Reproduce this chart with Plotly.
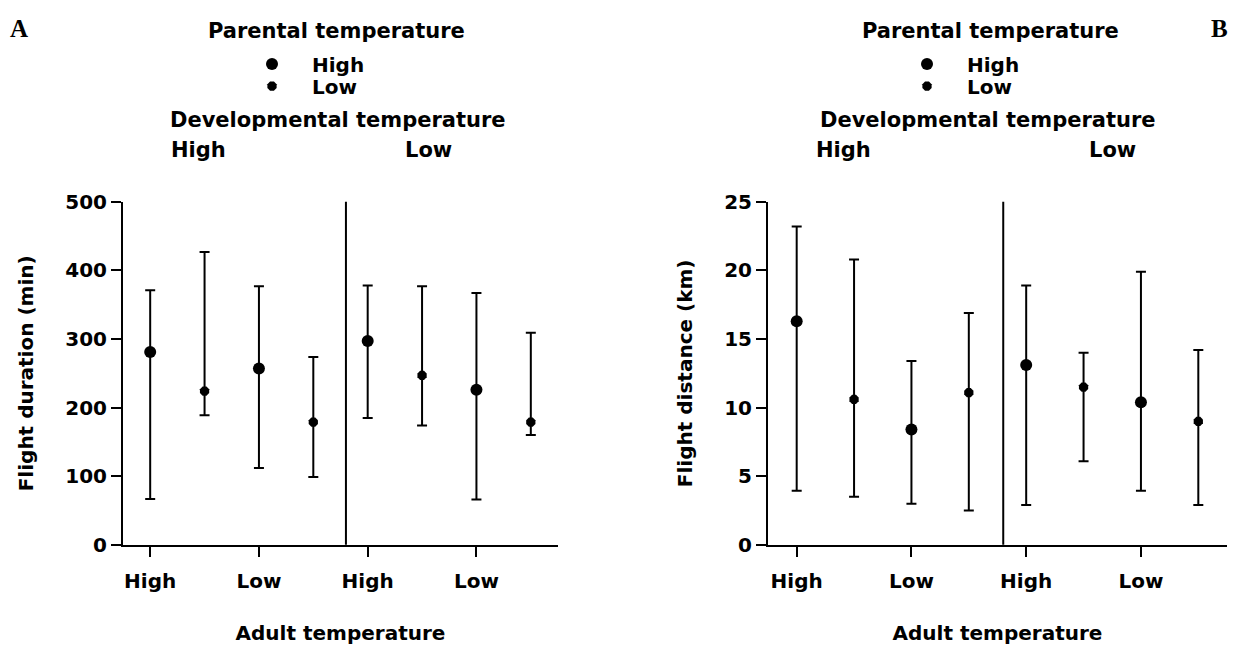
import plotly.graph_objects as go

W, H = 1245, 659
def px(x): return x / W
def py(y): return 1 - y / H

# ---- data ----
positions_high = [1, 3, 5, 7]   # parental High
positions_low = [2, 4, 6, 8]    # parental Low
tick_vals = [1, 3, 5, 7]
tick_text = ["High", "Low", "High", "Low"]

# Panel A: flight duration (min)
dur_high_mean = [281, 257, 297, 226]
dur_high_upper = [371, 377, 378, 367]
dur_high_lower = [67, 112, 185, 66]
dur_low_mean = [224, 179, 247, 179]
dur_low_upper = [427, 274, 377, 309]
dur_low_lower = [189, 99, 174, 160]

# Panel B: flight distance (km)
dist_high_mean = [16.3, 8.4, 13.1, 10.4]
dist_high_upper = [23.2, 13.4, 18.9, 19.9]
dist_high_lower = [3.95, 3.0, 2.9, 3.95]
dist_low_mean = [10.6, 11.1, 11.5, 9.0]
dist_low_upper = [20.8, 16.9, 14.0, 14.2]
dist_low_lower = [3.5, 2.5, 6.1, 2.9]

divider_x = 4.6

FONT = "DejaVu Sans"
BLACK = "black"

def trace(x, mean, upper, lower, name, symbol, size, xa, ya, legend):
    return go.Scatter(
        x=x, y=mean, mode="markers", name=name,
        marker=dict(symbol=symbol, size=size, color=BLACK, line=dict(width=0)),
        error_y=dict(type="data", symmetric=False,
                     array=[u - m for u, m in zip(upper, mean)],
                     arrayminus=[m - l for m, l in zip(mean, lower)],
                     color=BLACK, thickness=2, width=5),
        xaxis=xa, yaxis=ya, legend=legend, showlegend=True,
    )

fig = go.Figure()
fig.add_trace(trace(positions_high, dur_high_mean, dur_high_upper, dur_high_lower, "High", "circle", 12, "x", "y", "legend"))
fig.add_trace(trace(positions_low, dur_low_mean, dur_low_upper, dur_low_lower, "Low", "octagon", 10, "x", "y", "legend2"))
fig.add_trace(trace(positions_high, dist_high_mean, dist_high_upper, dist_high_lower, "High", "circle", 12, "x2", "y2", "legend3"))
fig.add_trace(trace(positions_low, dist_low_mean, dist_low_upper, dist_low_lower, "Low", "octagon", 10, "x2", "y2", "legend4"))

tfont = dict(family=FONT, size=20, color=BLACK, weight="bold")
axis_common = dict(showline=True, linecolor=BLACK, linewidth=2, ticks="outside", ticklen=10,
                   tickwidth=2, tickcolor=BLACK, showgrid=False, zeroline=False,
                   tickfont=tfont)

xcommon = dict(axis_common, range=[0.5, 8.5], tickvals=tick_vals, ticktext=tick_text,
               ticklabelstandoff=7,
               title=dict(text="Adult temperature", standoff=34, font=tfont))

def leg(x, y):
    return dict(x=px(x), y=py(y), xanchor="left", yanchor="middle", itemwidth=70,
                bgcolor="rgba(0,0,0,0)", tracegroupgap=0, font=tfont)

fig.update_layout(
    width=W, height=H, margin=dict(l=0, r=0, t=0, b=0),
    paper_bgcolor="white", plot_bgcolor="white",
    xaxis=dict(xcommon, domain=[px(123), px(558)], anchor="y"),
    xaxis2=dict(xcommon, domain=[px(768), px(1227)], anchor="y2"),
    yaxis=dict(axis_common, range=[0, 500], dtick=100, domain=[py(553), py(197)], anchor="x",
               title=dict(text="Flight duration (min)", standoff=26, font=tfont)),
    yaxis2=dict(axis_common, range=[0, 25], dtick=5, domain=[py(553), py(197)], anchor="x2",
                title=dict(text="Flight distance (km)", standoff=26, font=tfont)),
    legend=leg(232, 54), legend2=leg(232, 77),
    legend3=leg(887, 54), legend4=leg(887, 77),
    showlegend=True,
)

for xr, yr in (("x", "y domain"), ("x2", "y2 domain")):
    fig.add_shape(type="line", xref=xr, yref=yr, x0=divider_x, x1=divider_x, y0=0, y1=1,
                  line=dict(color=BLACK, width=2))

hfont = dict(family=FONT, size=21, color=BLACK, weight="bold")
lfont = dict(family="Liberation Serif", size=25, color=BLACK, weight="bold")
ann = [
    ("A", 19, 17, lfont), ("B", 1219, 17, lfont),
    ("Parental temperature", 336, 20, hfont), ("Parental temperature", 990, 20, hfont),
    ("Developmental temperature", 338, 112, hfont), ("Developmental temperature", 988, 112, hfont),
    ("High", 198, 143, hfont), ("Low", 428, 143, hfont),
    ("High", 843, 143, hfont), ("Low", 1112, 143, hfont),
]
for text, x, y, f in ann:
    fig.add_annotation(text=text, x=px(x), y=py(y), xref="paper", yref="paper",
                       xanchor="center", yanchor="middle", showarrow=False, font=f)

fig.write_html(
    "out.html",
    config={"displayModeBar": False},
    post_script="document.body.style.margin='0px';document.body.style.overflow='hidden';",
)
